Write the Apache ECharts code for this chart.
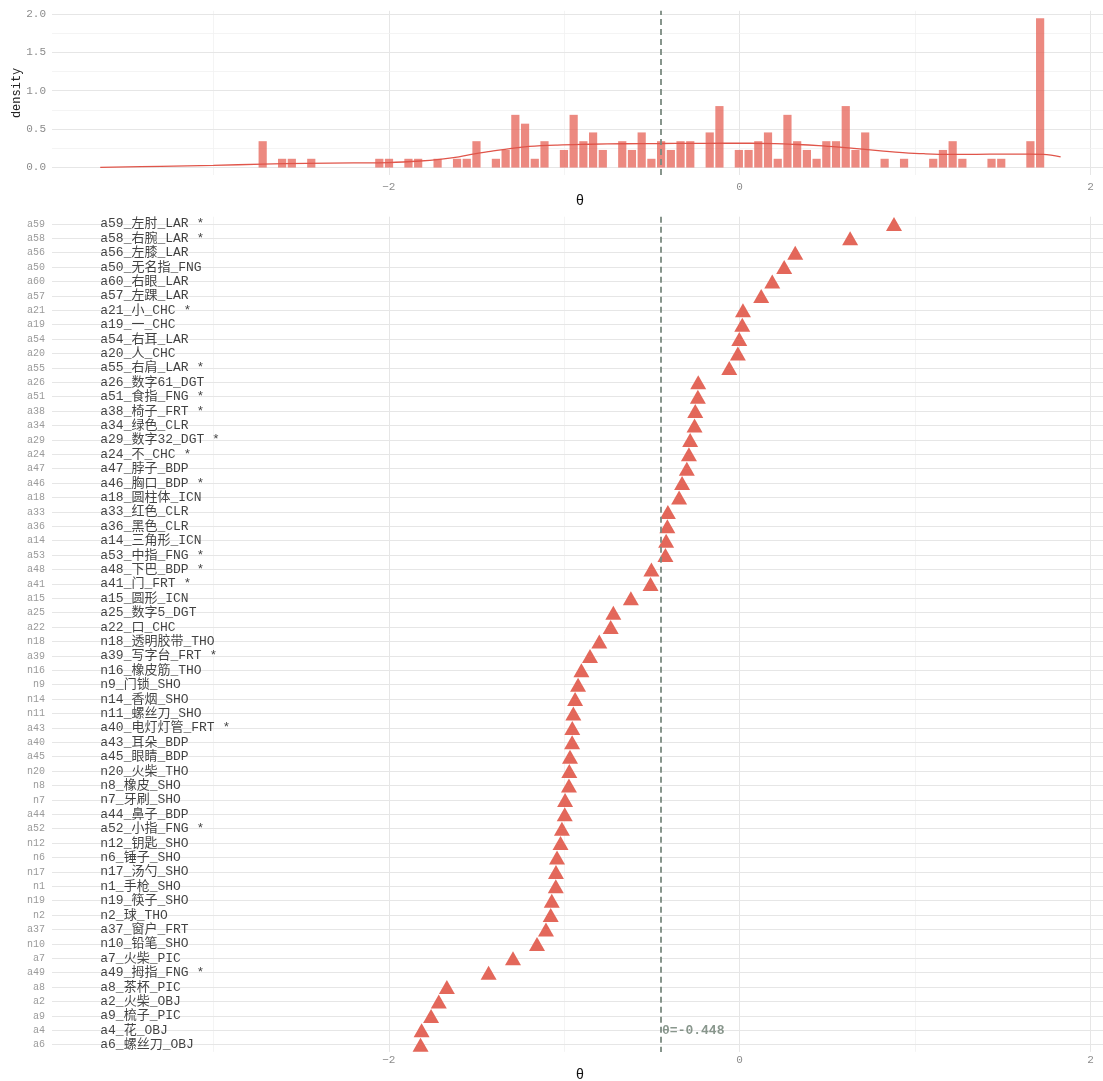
<!DOCTYPE html>
<html>
<head>
<meta charset="utf-8">
<script src="https://cdn.jsdelivr.net/npm/echarts@6/dist/echarts.min.js"></script>
<style>
html, body { margin: 0; padding: 0; background: #fff; }
#chart { width: 1103px; height: 1081px; }
</style>
</head>
<body>
<div id="chart"></div>
<script>
// ---- data ----
var thetaMean = -0.448;

// histogram: centre of first bin, bin width, density per bin
var histStart = -2.719;
var histWidth = 0.0554;
var histDensity = [
  0.343, 0, 0.114, 0.114, 0, 0.114, 0, 0, 0, 0,
  0, 0, 0.114, 0.114, 0, 0.114, 0.114, 0, 0.114, 0,
  0.114, 0.114, 0.343, 0, 0.114, 0.229, 0.686, 0.571, 0.114, 0.343,
  0, 0.229, 0.686, 0.343, 0.457, 0.229, 0, 0.343, 0.229, 0.457,
  0.114, 0.343, 0.229, 0.343, 0.343, 0, 0.457, 0.8, 0, 0.229,
  0.229, 0.343, 0.457, 0.114, 0.686, 0.343, 0.229, 0.114, 0.343, 0.343,
  0.8, 0.229, 0.457, 0, 0.114, 0, 0.114, 0, 0, 0.114,
  0.229, 0.343, 0.114, 0, 0, 0.114, 0.114, 0, 0, 0.343,
  1.943
];

// density curve (theta, density)
var curveTheta = [-3.645, -3.3, -3.0, -2.72, -2.47, -2.2, -2.0, -1.82, -1.71, -1.6, -1.52, -1.42,
  -1.3, -1.2, -1.04, -0.85, -0.66, -0.45, -0.28, -0.1, 0.06, 0.2, 0.33, 0.45, 0.57, 0.7,
  0.82, 0.93, 1.05, 1.2, 1.35, 1.5, 1.65, 1.73, 1.83];
var curveDensity = [0.003, 0.015, 0.028, 0.045, 0.055, 0.06, 0.065, 0.085, 0.107, 0.14, 0.175, 0.21,
  0.25, 0.275, 0.293, 0.303, 0.31, 0.313, 0.315, 0.316, 0.316, 0.312, 0.3, 0.285, 0.265, 0.24,
  0.215, 0.195, 0.18, 0.172, 0.172, 0.175, 0.175, 0.172, 0.14];

// items, top to bottom
var items = ['a59', 'a58', 'a56', 'a50', 'a60', 'a57', 'a21', 'a19', 'a54', 'a20',
  'a55', 'a26', 'a51', 'a38', 'a34', 'a29', 'a24', 'a47', 'a46', 'a18',
  'a33', 'a36', 'a14', 'a53', 'a48', 'a41', 'a15', 'a25', 'a22', 'n18',
  'a39', 'n16', 'n9', 'n14', 'n11', 'a43', 'a40', 'a45', 'n20', 'n8',
  'n7', 'a44', 'a52', 'n12', 'n6', 'n17', 'n1', 'n19', 'n2', 'a37',
  'n10', 'a7', 'a49', 'a8', 'a2', 'a9', 'a4', 'a6'];
var itemLabels = ['a59_左肘_LAR *', 'a58_右腕_LAR *', 'a56_左膝_LAR', 'a50_无名指_FNG', 'a60_右眼_LAR',
  'a57_左踝_LAR', 'a21_小_CHC *', 'a19_一_CHC', 'a54_右耳_LAR', 'a20_人_CHC',
  'a55_右肩_LAR *', 'a26_数字61_DGT', 'a51_食指_FNG *', 'a38_椅子_FRT *', 'a34_绿色_CLR',
  'a29_数字32_DGT *', 'a24_不_CHC *', 'a47_脖子_BDP', 'a46_胸口_BDP *', 'a18_圆柱体_ICN',
  'a33_红色_CLR', 'a36_黑色_CLR', 'a14_三角形_ICN', 'a53_中指_FNG *', 'a48_下巴_BDP *',
  'a41_门_FRT *', 'a15_圆形_ICN', 'a25_数字5_DGT', 'a22_口_CHC', 'n18_透明胶带_THO',
  'a39_写字台_FRT *', 'n16_橡皮筋_THO', 'n9_门锁_SHO', 'n14_香烟_SHO', 'n11_螺丝刀_SHO',
  'a40_电灯灯管_FRT *', 'a43_耳朵_BDP', 'a45_眼睛_BDP', 'n20_火柴_THO', 'n8_橡皮_SHO',
  'n7_牙刷_SHO', 'a44_鼻子_BDP', 'a52_小指_FNG *', 'n12_钥匙_SHO', 'n6_锤子_SHO',
  'n17_汤勺_SHO', 'n1_手枪_SHO', 'n19_筷子_SHO', 'n2_球_THO', 'a37_窗户_FRT',
  'n10_铅笔_SHO', 'a7_火柴_PIC', 'a49_拇指_FNG *', 'a8_茶杯_PIC', 'a2_火柴_OBJ',
  'a9_梳子_PIC', 'a4_花_OBJ', 'a6_螺丝刀_OBJ'];
var itemTheta = [0.88, 0.63, 0.317, 0.254, 0.186, 0.123, 0.019, 0.015, -0.002, -0.01,
  -0.059, -0.236, -0.238, -0.253, -0.257, -0.282, -0.289, -0.301, -0.328, -0.345,
  -0.409, -0.412, -0.419, -0.423, -0.503, -0.508, -0.62, -0.72, -0.735, -0.80,
  -0.853, -0.902, -0.921, -0.938, -0.948, -0.954, -0.955, -0.967, -0.971, -0.973,
  -0.995, -0.997, -1.013, -1.021, -1.041, -1.047, -1.048, -1.071, -1.077, -1.104,
  -1.155, -1.292, -1.431, -1.669, -1.715, -1.759, -1.813, -1.819];

var labelX = -3.645;        // where the item texts start
var xTicks = [-2, 0, 2];
var xGrid = [-3, -2, -1, 0, 1, 2];
var densityTicks = [0, 0.5, 1, 1.5, 2];
var densityMinor = [0.25, 0.75, 1.25, 1.75];

// ---- build ----
var red = '#E3675A';
var mono = "'Liberation Mono', 'Noto Sans CJK SC', monospace";
var majorLine = { color: '#E6E6E6', width: 1, type: 'solid' };
var minorLine = { color: '#F1F1F1', width: 0.8, type: 'solid' };

var histData = [];
histDensity.forEach(function (d, i) {
  if (d > 0) histData.push([histStart + i * histWidth, d]);
});
var curveData = curveTheta.map(function (t, i) { return [t, curveDensity[i]]; });
var pointData = items.map(function (id, i) { return [itemTheta[i], id]; });
var textData = items.map(function (id, i) { return { value: [labelX, id], name: itemLabels[i] }; });

function fmtTick(v) { return String(v).replace('-', '\u2212'); }

function vLines() {
  return xGrid.map(function (v) {
    return { xAxis: v, lineStyle: (v % 2 === 0) ? majorLine : minorLine };
  });
}
var topGrid = vLines()
  .concat(densityTicks.map(function (v) { return { yAxis: v, lineStyle: majorLine }; }))
  .concat(densityMinor.map(function (v) { return { yAxis: v, lineStyle: minorLine }; }));
var bottomGrid = vLines()
  .concat(items.map(function (id) { return { yAxis: id, lineStyle: majorLine }; }));

function gridMarks(list) {
  return { silent: true, symbol: ['none', 'none'], z: 0, animation: false,
           label: { show: false }, data: list };
}
var meanLine = {
  silent: true, symbol: ['none', 'none'], z: 5, animation: false,
  label: { show: false },
  lineStyle: { color: '#7B8A80', width: 1.8, type: [6, 4] },
  data: [{ xAxis: thetaMean }]
};

var xBase = {
  type: 'value', min: -3.92, max: 2.1,
  axisLine: { show: false }, axisTick: { show: false }, splitLine: { show: false },
  name: 'θ', nameLocation: 'middle', nameMoveOverlap: false,
  nameTextStyle: { color: '#111', fontSize: 14, fontFamily: mono }
};

var option = {
  animation: false,
  backgroundColor: '#fff',
  grid: [
    { left: 52, top: 10.8, width: 1056, height: 164.2, outerBoundsMode: 'none', containLabel: false },
    { left: 52, top: 216.7, width: 1056, height: 835.2, outerBoundsMode: 'none', containLabel: false }
  ],
  xAxis: [
    Object.assign({}, xBase, {
      gridIndex: 0, nameGap: 19,
      axisLabel: { customValues: xTicks, formatter: fmtTick, margin: 7,
                   color: '#8C8C8C', fontSize: 11, fontFamily: mono }
    }),
    Object.assign({}, xBase, {
      gridIndex: 1, nameGap: 16,
      axisLabel: { customValues: xTicks, formatter: fmtTick, margin: 3,
                   color: '#8C8C8C', fontSize: 11, fontFamily: mono }
    })
  ],
  yAxis: [
    {
      gridIndex: 0, type: 'value', min: -0.097, max: 2.04,
      axisLine: { show: false }, axisTick: { show: false }, splitLine: { show: false },
      axisLabel: { customValues: densityTicks, margin: 6, color: '#8C8C8C', fontSize: 11,
                   fontFamily: mono, formatter: function (v) { return v.toFixed(1); } },
      name: 'density', nameLocation: 'middle', nameRotate: 90, nameGap: 29,
      nameMoveOverlap: false,
      nameTextStyle: { color: '#222', fontSize: 12, fontFamily: mono }
    },
    {
      gridIndex: 1, type: 'category', data: items, inverse: true, boundaryGap: true,
      axisLine: { show: false }, axisTick: { show: false }, splitLine: { show: false },
      axisLabel: { interval: 0, margin: 7, color: '#9A9A9A', fontSize: 10, fontFamily: mono }
    }
  ],
  series: [
    {
      name: 'hist', type: 'bar', xAxisIndex: 0, yAxisIndex: 0,
      data: histData, barWidth: 8.2, z: 2,
      itemStyle: { color: 'rgba(229,98,86,0.75)' },
      markLine: gridMarks(topGrid)
    },
    {
      name: 'density', type: 'line', xAxisIndex: 0, yAxisIndex: 0,
      data: curveData, smooth: 0.4, symbol: 'none', z: 3,
      lineStyle: { color: '#E0554A', width: 1.3 },
      markLine: meanLine
    },
    {
      name: 'theta', type: 'scatter', xAxisIndex: 1, yAxisIndex: 1,
      data: pointData, symbol: 'triangle', symbolSize: [16, 14], z: 3,
      itemStyle: { color: red, opacity: 1 },
      markLine: gridMarks(bottomGrid)
    },
    {
      name: 'labels', type: 'scatter', xAxisIndex: 1, yAxisIndex: 1,
      data: textData, symbolSize: 0, z: 4,
      itemStyle: { color: 'rgba(0,0,0,0)' },
      label: { show: true, position: 'right', distance: 0, formatter: '{b}',
               color: '#111', fontSize: 13, fontFamily: mono },
      markLine: meanLine
    },
    {
      name: 'mean', type: 'scatter', xAxisIndex: 1, yAxisIndex: 1,
      data: [{ value: [thetaMean, 'a4'], name: 'θ=-0.448' }], symbolSize: 0, z: 4,
      itemStyle: { color: 'rgba(0,0,0,0)' },
      label: { show: true, position: 'right', distance: 1, formatter: '{b}',
               color: '#6B7D70', fontSize: 13, fontWeight: 'bold', fontFamily: mono }
    }
  ]
};

var myChart = echarts.init(document.getElementById('chart'));
myChart.setOption(option);
</script>
</body>
</html>
